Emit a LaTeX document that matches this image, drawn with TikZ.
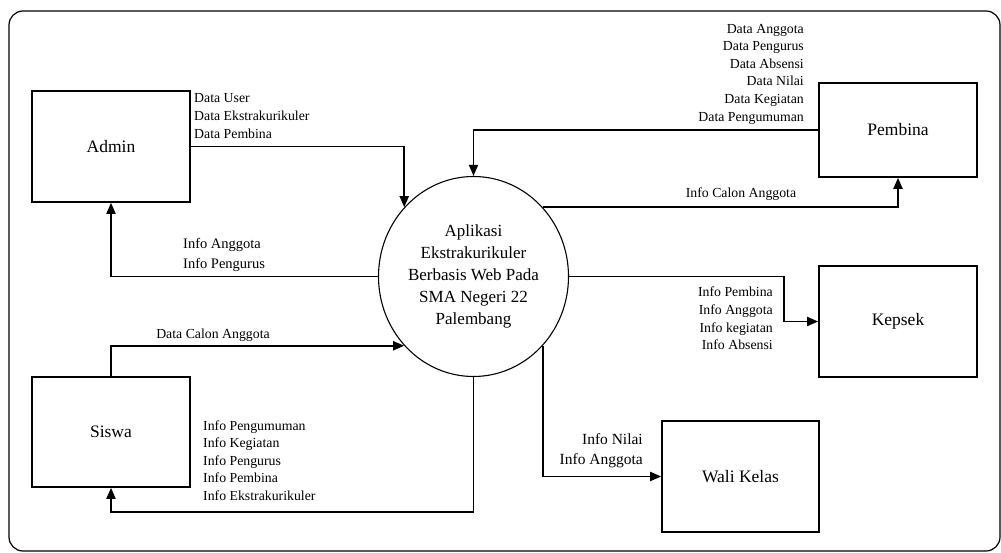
\documentclass[tikz,border=0pt]{standalone}
\usepackage{fontspec}
\setmainfont{Liberation Serif}
\usetikzlibrary{arrows.meta,shapes.geometric,positioning}

\begin{document}
\begin{tikzpicture}[x=1pt, y=-1pt,
  entity/.style={draw, rectangle, line width=1.6pt, minimum width=158pt, minimum height=111pt, font=\fontsize{17.5}{21}\selectfont},
  process/.style={draw, ellipse, line width=1.1pt, inner sep=0pt, minimum width=190pt, minimum height=200pt, align=center, font=\fontsize{17}{22}\selectfont},
  flow/.style={-{Triangle[length=11pt,width=9pt]}, line width=1.8pt},
  lbl/.style={inner sep=0pt, font=\fontsize{13.8}{17.6}\selectfont},
  lblbig/.style={inner sep=0pt, font=\fontsize{14.5}{20}\selectfont}]
  \useasboundingbox (0,0) rectangle (1001,553);
  \draw[rounded corners=14pt, line width=1.2pt] (9,11) rectangle (1000,551);

  % process and external entities
  \node (circ) [process] at (473.5,276.5) {Aplikasi\\Ekstrakurikuler\\Berbasis Web Pada\\SMA Negeri 22\\Palembang};
  \node (admin) [entity] at (111,146.5) {Admin};
  \node (pembina) [entity, minimum height=94pt] at (898,130) {Pembina};
  \node (kepsek) [entity] at (898,321.5) {Kepsek};
  \node (wali) [entity, minimum width=157pt] at (740.5,476.5) {Wali Kelas};
  \node (siswa) [entity, minimum height=110pt] at (111,432) {Siswa};

  % flow labels
  \node (lbladmin) [lbl, anchor=west, align=left] at (194,116) {Data User\\Data Ekstrakurikuler\\Data Pembina};
  \node (lblinfoadmin) [lblbig, anchor=west, align=left] at (183,255) {Info Anggota\\Info Pengurus};
  \node (lblpembina) [lbl, anchor=east, align=right] at (804,74) {Data Anggota\\Data Pengurus\\Data Absensi\\Data Nilai\\Data Kegiatan\\Data Pengumuman};
  \node (lblcalon) [lbl] at (741,194) {Info Calon Anggota};
  \node (lblkepsek) [lbl, anchor=east, align=right] at (773,318.5) {Info Pembina\\Info Anggota\\Info kegiatan\\Info Absensi};
  \node (lblwali) [lblbig, anchor=east, align=right, font=\fontsize{15.5}{20}\selectfont] at (643,451) {Info Nilai\\Info Anggota};
  \node (lblsiswadata) [lbl] at (213,335) {Data Calon Anggota};
  \node (lblsiswa) [lbl, anchor=west, align=left] at (203,460.5) {Info Pengumuman\\Info Kegiatan\\Info Pengurus\\Info Pembina\\Info Ekstrakurikuler};

  % data flows
  \draw[flow] (admin.east) -| (circ.135);
  \draw[flow] (circ.west) -| (admin.south);
  \draw[flow] (pembina.west) -| (circ.north);
  \draw[flow] (circ.45) -| (pembina.south);
  \draw[flow] (circ.east) -- (circ.east -| 784,0) |- (kepsek.west);
  \draw[flow] (circ.-45) |- (wali.west);
  \draw[flow] (siswa.north) |- (circ.225);
  \draw[flow] (circ.south) -- (circ.south |- 0,512) -| (siswa.south);
\end{tikzpicture}
\end{document}
